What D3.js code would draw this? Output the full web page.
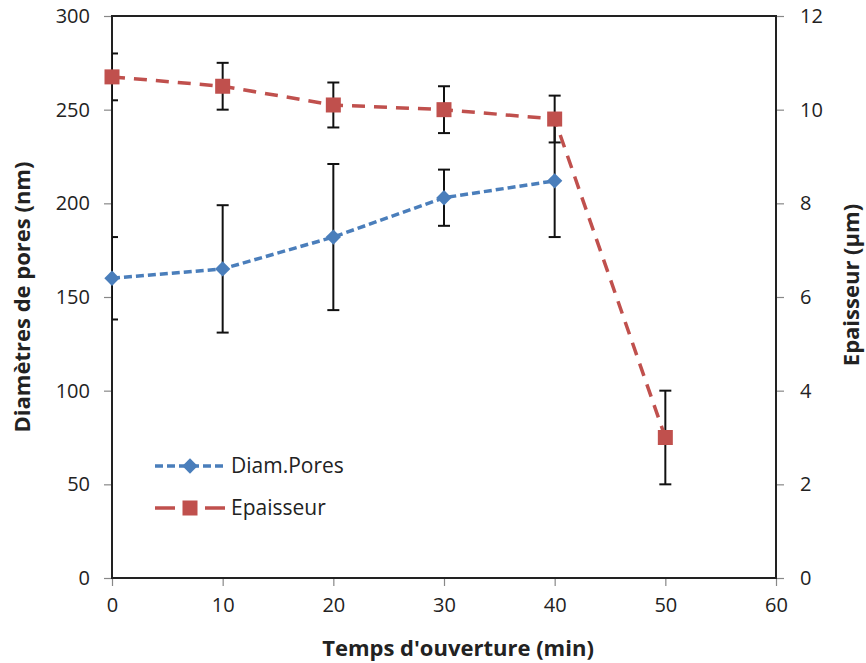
<!DOCTYPE html>
<html>
<head>
<meta charset="utf-8">
<script src="https://cdn.jsdelivr.net/npm/d3@7"></script>
<style>
  body { margin: 0; background: #fff; }
  text { font-family: "Open Sans", "DejaVu Sans", sans-serif; fill: #222; }
</style>
</head>
<body>
<div id="wrapper"></div>
<script>
// data
const times = [0, 10, 20, 30, 40, 50];
const diamTimes = [0, 10, 20, 30, 40];
const diamValues = [160, 165, 182, 203, 212];
const diamErrors = [22, 34, 39, 15, 30];
const epValues = [10.7, 10.5, 10.1, 10.0, 9.8, 3.0];
const epErrors = [0.5, 0.5, 0.48, 0.5, 0.5, 1.0];
const xTicks = [0, 10, 20, 30, 40, 50, 60];
const leftTicks = [0, 50, 100, 150, 200, 250, 300];
const rightTicks = [0, 2, 4, 6, 8, 10, 12];

const blue = "#4a7ebb";
const red = "#c0504d";

const dimensions = {
  width: 866,
  height: 663,
  margin: { top: 16, right: 90, bottom: 85, left: 112 },
};
dimensions.boundedWidth = dimensions.width - dimensions.margin.left - dimensions.margin.right;
dimensions.boundedHeight = dimensions.height - dimensions.margin.top - dimensions.margin.bottom;

const svg = d3.select("#wrapper").append("svg")
  .attr("width", dimensions.width)
  .attr("height", dimensions.height);

const bounds = svg.append("g")
  .attr("transform", `translate(${dimensions.margin.left},${dimensions.margin.top})`);

bounds.append("clipPath").attr("id", "plot-clip")
  .append("rect")
  .attr("width", dimensions.boundedWidth)
  .attr("height", dimensions.boundedHeight);

const xScale = d3.scaleLinear().domain([0, 60]).range([0, dimensions.boundedWidth]);
const yLeft = d3.scaleLinear().domain([0, 300]).range([dimensions.boundedHeight, 0]);
const yRight = d3.scaleLinear().domain([0, 12]).range([dimensions.boundedHeight, 0]);

// axes
const xAxis = bounds.append("g")
  .attr("transform", `translate(0,${dimensions.boundedHeight})`)
  .call(d3.axisBottom(xScale).tickValues(xTicks).tickSize(8).tickPadding(12));
const leftAxis = bounds.append("g")
  .call(d3.axisLeft(yLeft).tickValues(leftTicks).tickSize(8).tickPadding(14));
const rightAxis = bounds.append("g")
  .attr("transform", `translate(${dimensions.boundedWidth},0)`)
  .call(d3.axisRight(yRight).tickValues(rightTicks).tickSize(8).tickPadding(16));

[xAxis, leftAxis, rightAxis].forEach((a) => {
  a.select(".domain").remove();
  a.selectAll(".tick line").attr("stroke", "#888").attr("stroke-width", 1.2);
  a.selectAll(".tick text").style("font-size", "20px").attr("fill", "#222");
});

// frame
bounds.append("rect")
  .attr("width", dimensions.boundedWidth)
  .attr("height", dimensions.boundedHeight)
  .attr("fill", "none")
  .attr("stroke", "#222")
  .attr("stroke-width", 2);

const plot = bounds.append("g").attr("clip-path", "url(#plot-clip)");

// error bars
function drawErrors(xs, vals, errs, scale) {
  const g = plot.append("g");
  xs.forEach((t, i) => {
    const x = xScale(t);
    const y1 = scale(vals[i] + errs[i]);
    const y2 = scale(vals[i] - errs[i]);
    g.append("line").attr("x1", x).attr("x2", x).attr("y1", y1).attr("y2", y2)
      .attr("stroke", "#111").attr("stroke-width", 2);
    [y1, y2].forEach((y) => {
      g.append("line").attr("x1", x - 6).attr("x2", x + 6).attr("y1", y).attr("y2", y)
        .attr("stroke", "#111").attr("stroke-width", 2);
    });
  });
}
drawErrors(diamTimes, diamValues, diamErrors, yLeft);
drawErrors(times, epValues, epErrors, yRight);

// lines
const diamLine = d3.line().x((d, i) => xScale(diamTimes[i])).y((d) => yLeft(d));
const epLine = d3.line().x((d, i) => xScale(times[i])).y((d) => yRight(d));

bounds.append("path").attr("d", diamLine(diamValues))
  .attr("fill", "none").attr("stroke", blue).attr("stroke-width", 3.5)
  .attr("stroke-dasharray", "8 4");
bounds.append("path").attr("d", epLine(epValues))
  .attr("fill", "none").attr("stroke", red).attr("stroke-width", 3.5)
  .attr("stroke-dasharray", "13 9");

// markers
const diamond = d3.symbol().type(d3.symbolDiamond2).size(150);
bounds.selectAll(".diam").data(diamValues).join("path")
  .attr("d", diamond)
  .attr("transform", (d, i) => `translate(${xScale(diamTimes[i])},${yLeft(d)})`)
  .attr("fill", blue);
bounds.selectAll(".ep").data(epValues).join("rect")
  .attr("x", (d, i) => xScale(times[i]) - 7.5)
  .attr("y", (d) => yRight(d) - 7.5)
  .attr("width", 15).attr("height", 15)
  .attr("fill", red);

// legend
const legend = bounds.append("g").attr("transform", "translate(43,450)");
const legendItems = [
  { label: "Diam.Pores", color: blue, dash: "8 4", marker: "diamond" },
  { label: "Epaisseur", color: red, dash: "20 30", marker: "square" },
];
legendItems.forEach((item, i) => {
  const g = legend.append("g").attr("transform", `translate(0,${i * 42})`);
  g.append("line").attr("x1", 0).attr("x2", 70).attr("y1", 0).attr("y2", 0)
    .attr("stroke", item.color).attr("stroke-width", 3.5)
    .attr("stroke-dasharray", item.dash);
  if (item.marker === "diamond") {
    g.append("path").attr("d", diamond).attr("transform", "translate(35,0)").attr("fill", item.color);
  } else {
    g.append("rect").attr("x", 27.5).attr("y", -7.5).attr("width", 15).attr("height", 15)
      .attr("fill", item.color);
  }
  g.append("text").attr("x", 76).attr("y", 7).style("font-size", "21px").text(item.label);
});

// axis titles
svg.append("text")
  .attr("transform", `translate(${dimensions.margin.left + dimensions.boundedWidth / 2 + 14},656)`)
  .attr("text-anchor", "middle")
  .style("font-size", "22px").style("font-weight", "bold")
  .text("Temps d'ouverture (min)");
svg.append("text")
  .attr("transform", `translate(30,${dimensions.margin.top + dimensions.boundedHeight / 2}) rotate(-90)`)
  .attr("text-anchor", "middle")
  .style("font-size", "22px").style("font-weight", "bold")
  .text("Diamètres de pores (nm)");
svg.append("text")
  .attr("transform", `translate(859,${dimensions.margin.top + dimensions.boundedHeight / 2 - 12}) rotate(-90)`)
  .attr("text-anchor", "middle")
  .style("font-size", "22px").style("font-weight", "bold")
  .text("Epaisseur (µm)");
</script>
</body>
</html>
